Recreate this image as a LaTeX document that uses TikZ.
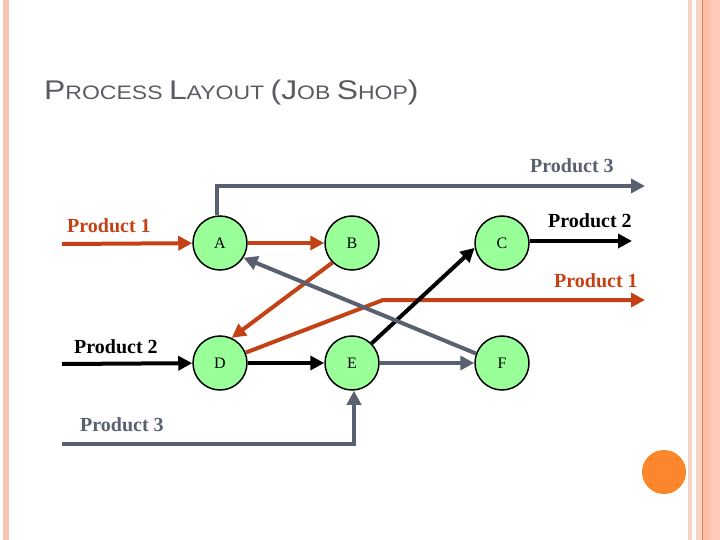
\documentclass[tikz,border=0pt]{standalone}
\usepackage{fontspec}
\setmainfont{Liberation Serif}
\newfontfamily\titlefont{Liberation Sans}
\usetikzlibrary{arrows.meta}
\definecolor{prodred}{RGB}{195,65,20}
\definecolor{prodgray}{RGB}{89,96,112}
\definecolor{nodegreen}{RGB}{153,255,153}
\definecolor{titlegray}{RGB}{90,92,100}
\definecolor{stripeA}{RGB}{248,196,178}
\definecolor{stripeB}{RGB}{250,210,195}
\definecolor{stripeC}{RGB}{252,190,165}
\definecolor{stripeD}{RGB}{255,200,185}
\definecolor{stripeLine}{RGB}{210,130,100}
\definecolor{dotorange}{RGB}{250,135,45}
\tikzset{
  station/.style={circle, draw=black, line width=1.5pt, fill=nodegreen, minimum size=54pt, inner sep=0pt, font=\fontsize{16}{16}\selectfont},
  flow/.style={line width=4pt, -{Triangle[length=14pt,width=14pt]}},
  redflow/.style={flow, draw=prodred},
  grayflow/.style={flow, draw=prodgray},
  blackflow/.style={flow, draw=black},
  plabel/.style={anchor=base west, inner sep=0pt, font=\fontsize{20}{20}\selectfont\bfseries},
}
\begin{document}
\begin{tikzpicture}[x=1pt,y=-1pt]
\useasboundingbox (0,0) rectangle (720,540);
\fill[white] (0,0) rectangle (720,540);
% borders
\fill[stripeA] (3,0) rectangle (9,540);
\fill[stripeB] (688,0) rectangle (692,540);
\fill[stripeB] (696,0) rectangle (702,540);
\fill[stripeC] (702,0) rectangle (710,540);
\fill[stripeD] (710,0) rectangle (720,540);
\fill[stripeLine] (702,0) rectangle (703,540);
\fill[dotorange] (664,472) circle (22);
% title
\node[anchor=base west, inner sep=0pt, text=titlegray] (title) at (44,100) {\scalebox{1.18}[1]{\titlefont\fontsize{27}{27}\selectfont P\fontsize{19.5}{19.5}\selectfont ROCESS \fontsize{27}{27}\selectfont L\fontsize{19.5}{19.5}\selectfont AYOUT \fontsize{27}{27}\selectfont(J\fontsize{19.5}{19.5}\selectfont OB \fontsize{27}{27}\selectfont S\fontsize{19.5}{19.5}\selectfont HOP\fontsize{27}{27}\selectfont)}};
% stations
\node[station] (A) at (220,243) {A};
\node[station] (B) at (352,243) {B};
\node[station] (C) at (502,243) {C};
\node[station] (D) at (220,363) {D};
\node[station] (E) at (352,363) {E};
\node[station] (F) at (502,363) {F};
% end points
\coordinate (p1in) at (62,244);
\coordinate (p2in) at (62,364);
\coordinate (p3in) at (62,444);
\coordinate (p1bend) at (383,300);
\coordinate (p1out) at (645,300);
\coordinate (p2out) at (632,241);
\coordinate (p3top) at (217,186);
\coordinate (p3out) at (645,186);
\coordinate (p3corner) at (354,444);
% product 1
\draw[redflow] (p1in) -- (A);
\draw[redflow] (A) -- (B);
\draw[redflow] (B.225) -- (D.65);
\draw[redflow] (D.22) -- (p1bend) -- (p1out);
% product 2
\draw[blackflow] (p2in) -- (D);
\draw[blackflow] (D) -- (E);
\draw[blackflow] (E.45) -- (C.190);
\draw[blackflow] (C.east |- p2out) -- (p2out);
% product 3
\draw[grayflow] (p3in) -- (p3corner) -- (E.south -| p3corner);
\draw[grayflow] (E) -- (F);
\draw[grayflow] (F.160) -- (A.-32);
\draw[grayflow] (A.north -| p3top) -- (p3top) -- (p3out);
% labels
\node[plabel, text=prodred] (l1a) at (67,233) {Product 1};
\node[plabel, text=black] (l2a) at (74,353) {Product 2};
\node[plabel, text=prodgray] (l3a) at (80,431) {Product 3};
\node[plabel, text=prodgray] (l3b) at (530,173) {Product 3};
\node[plabel, text=black] (l2b) at (548,227) {Product 2};
\node[plabel, text=prodred] (l1b) at (554,287) {Product 1};
\end{tikzpicture}
\end{document}
